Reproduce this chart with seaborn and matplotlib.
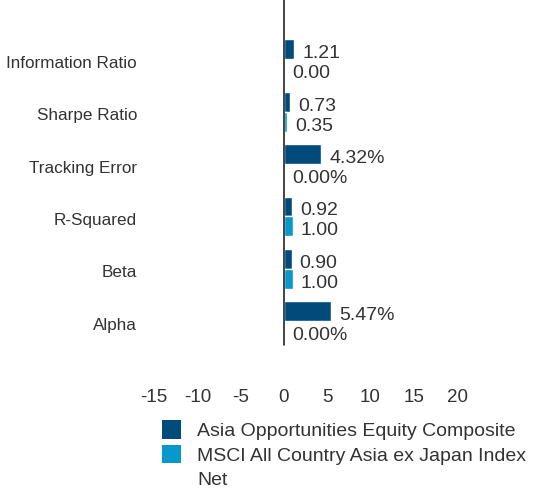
import matplotlib
matplotlib.use("Agg")
import matplotlib.pyplot as plt
import matplotlib.transforms as mtransforms
import seaborn as sns
import pandas as pd
from matplotlib.patches import Patch

categories = ["Information Ratio", "Sharpe Ratio", "Tracking Error", "R-Squared", "Beta", "Alpha"]
series_names = ["Asia Opportunities Equity Composite", "MSCI All Country Asia ex Japan Index Net"]
composite = [1.21, 0.73, 4.32, 0.92, 0.90, 5.47]
benchmark = [0.00, 0.35, 0.00, 1.00, 1.00, 0.00]
composite_labels = ["1.21", "0.73", "4.32%", "0.92", "0.90", "5.47%"]
benchmark_labels = ["0.00", "0.35", "0.00%", "1.00", "1.00", "0.00%"]
xticks = [-15, -10, -5, 0, 5, 10, 15, 20]
colors = ["#014a7c", "#0898cc"]
text_color = "#333333"

df = pd.DataFrame({
    "Metric": categories * 2,
    "Value": composite + benchmark,
    "Series": [series_names[0]] * len(categories) + [series_names[1]] * len(categories),
})

sns.set_style("white")
plt.rcParams['font.family'] = ['Liberation Sans', 'DejaVu Sans']

fig = plt.figure(figsize=(5.33, 4.92), dpi=100)
ax_l, ax_r = 154, 457
ax = fig.add_axes([ax_l / 533, 1 - 388 / 492, (ax_r - ax_l) / 533, 388 / 492])

sns.barplot(data=df, y="Metric", x="Value", hue="Series", orient="h",
            palette=colors, width=0.76, ax=ax, legend=False, saturation=1)

ax.set_xlim(-15, 20)
top = -1.13
ax.set_ylim(top + 388 / 52.4, top)
ax.set_xlabel("")
ax.set_ylabel("")
for s in ax.spines.values():
    s.set_visible(False)
ax.plot([0, 0], [top, 5.46], color="#111111", lw=1.1, clip_on=False, zorder=5)

ax.set_xticks(xticks)
ax.set_xticklabels([str(t) for t in xticks], fontsize=13.5, color=text_color)
ax.tick_params(axis="x", length=0, pad=1)
ax.tick_params(axis="y", length=0, pad=0)
ax.set_yticks(range(len(categories)))
ax.set_yticklabels(categories, fontsize=12.3, color=text_color)
shift = mtransforms.ScaledTranslation(0, -2.5 / 100, fig.dpi_scale_trans)
for lbl in ax.get_yticklabels():
    lbl.set_x((137 - ax_l) / (ax_r - ax_l))
    lbl.set_transform(ax.get_yaxis_transform() + shift)
    lbl.set_horizontalalignment("right")

# value labels
for bars, labels in ((ax.containers[0], composite_labels), (ax.containers[1], benchmark_labels)):
    for bar, lab in zip(bars, labels):
        xend = bar.get_x() + bar.get_width()
        yc = bar.get_y() + bar.get_height() / 2
        ax.annotate(lab, (xend, yc), xytext=(5.8, -3.2), textcoords="offset points",
                    ha="left", va="center", fontsize=14, color=text_color)

# legend (second label wraps onto a continuation line, as in the reference)
name2_a, name2_b = series_names[1].rsplit(" ", 1)
handles = [Patch(facecolor=colors[0], edgecolor="none"),
           Patch(facecolor=colors[1], edgecolor="none"),
           Patch(facecolor="none", edgecolor="none")]
leg = fig.legend(handles, [series_names[0], name2_a, name2_b], loc="upper left",
                 bbox_to_anchor=(162 / 533, 1 - 420 / 492), frameon=False,
                 fontsize=14, handlelength=1.0, handleheight=1.1,
                 handletextpad=0.82, labelspacing=0.24, borderpad=0, borderaxespad=0)
for t in leg.get_texts():
    t.set_color(text_color)

fig.savefig("out.png", dpi=100)
